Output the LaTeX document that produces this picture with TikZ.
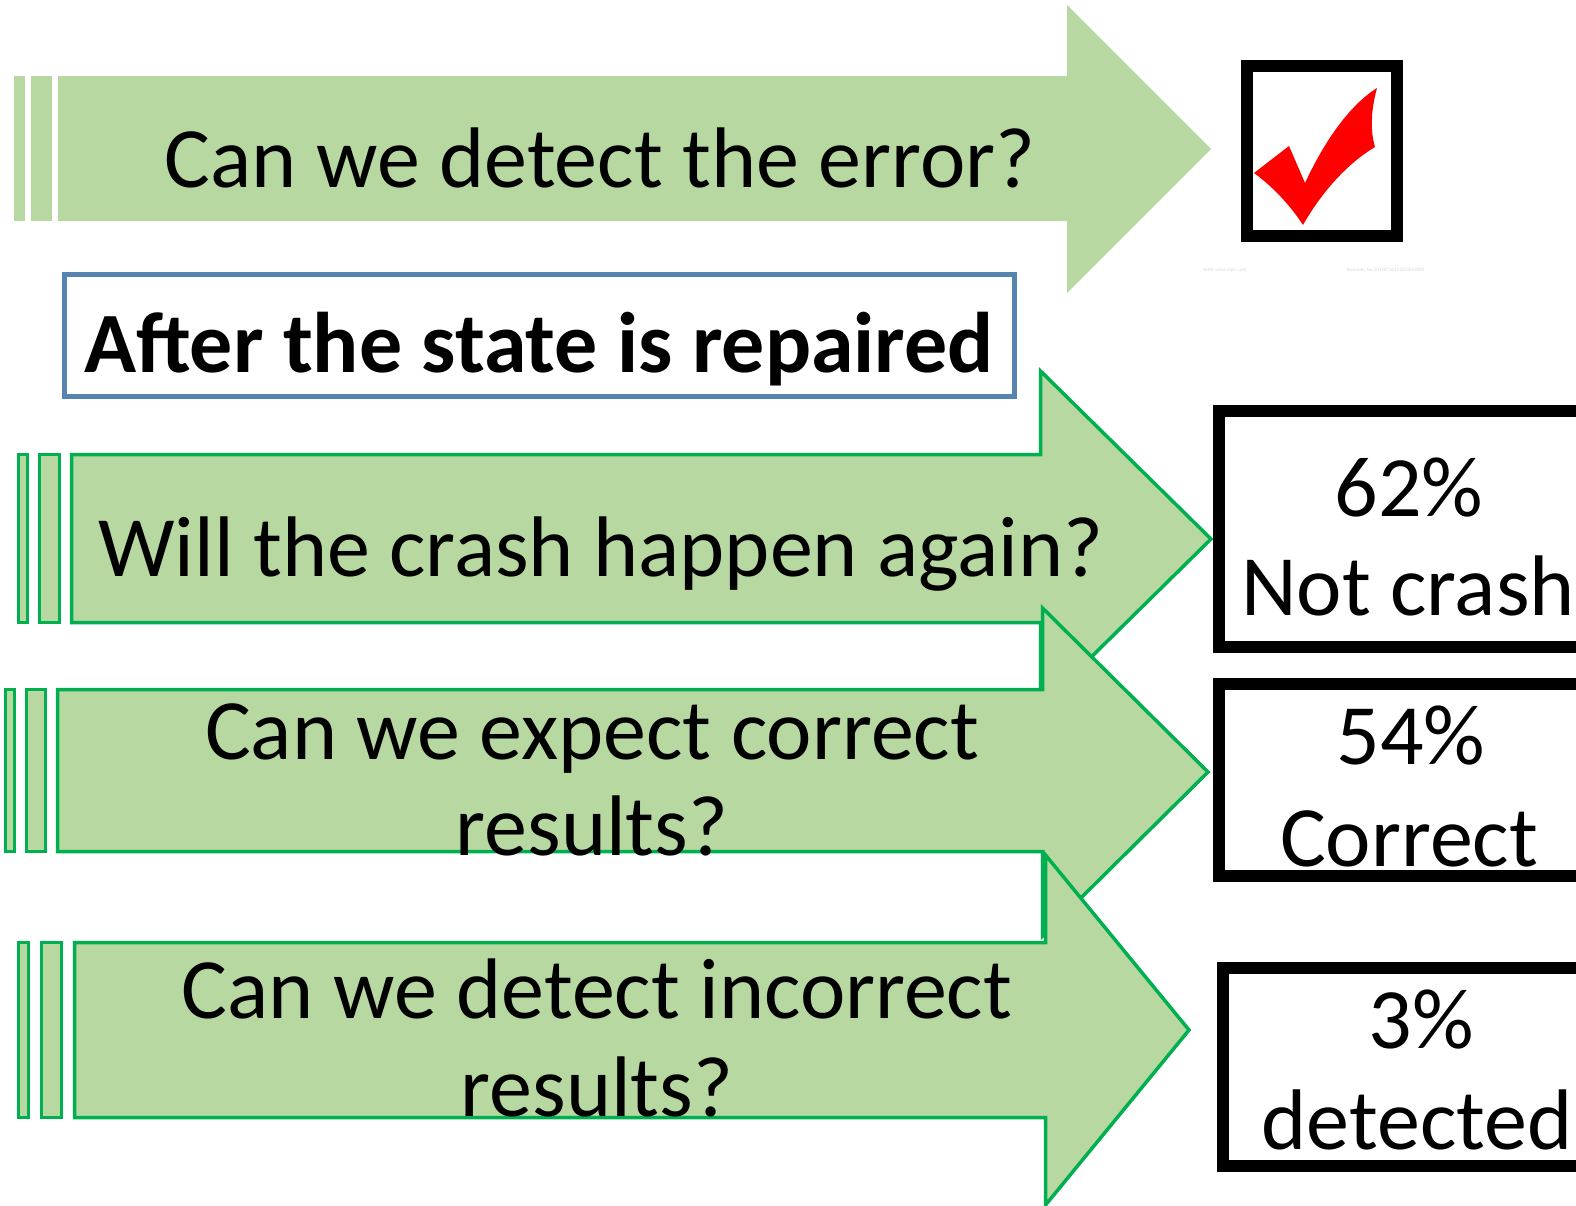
\documentclass[tikz,border=0pt]{standalone}
\usepackage{fontspec}
\setmainfont{Carlito}
\begin{document}
\begin{tikzpicture}[x=1pt,y=-1pt,
  arrowfill/.style={fill=leaf},
  arrowline/.style={fill=leaf,draw=grass,line width=3.5pt,line join=miter},
  resultbox/.style={draw=black,line width=12pt,line join=miter},
  bigtext/.style={font=\fontsize{86}{100}\selectfont,inner sep=0pt},
  titletext/.style={font=\fontsize{86}{100}\selectfont\bfseries,inner sep=0pt},
  marktext/.style={font=\fontsize{5}{6}\selectfont,text=black!15,inner sep=0pt}]
\definecolor{leaf}{RGB}{184,216,162}
\definecolor{grass}{RGB}{0,176,80}
\definecolor{steel}{RGB}{84,132,175}
\definecolor{tick}{RGB}{255,0,0}
\clip (0,0) rectangle (1576,1205);
\fill[white] (0,0) rectangle (1576,1205);

% first question: plain block arrow with two stripes
\fill[arrowfill] (14,76) rectangle (25,221);
\fill[arrowfill] (31,76) rectangle (52,221);
\fill[arrowfill] (58,76) -- (1067,76) -- (1067,5) -- (1211,149) -- (1067,293) -- (1067,221) -- (58,221) -- cycle;
\node[bigtext,anchor=base] (q1) at (600,187) {Can we detect the error?};

% tick box
\draw[resultbox] (1247,66) rectangle (1397,236);
\fill[tick] (1254,173) -- (1289,146) -- (1305,183)
  .. controls (1325,140) and (1350,105) .. (1377,88)
  .. controls (1371,110) and (1370,130) .. (1375,147)
  .. controls (1345,165) and (1320,195) .. (1303,225)
  .. controls (1290,205) and (1272,186) .. cycle;
\node[marktext,anchor=west] (wm1) at (1203,270) {NIPIC www.nipic.com};
\node[marktext,anchor=west] (wm2) at (1347,270) {By:kooky No:20110716111855859000};

% heading
\draw[steel,line width=5.5pt] (64.5,274.5) rectangle (1014.5,396.5);
\node[titletext,anchor=base] (head) at (539,372) {After the state is repaired};

% second question
\draw[arrowline] (18.5,454.5) rectangle (27.5,622.5);
\draw[arrowline] (39.5,454.5) rectangle (59.5,622.5);
\draw[arrowline] (71.5,454.5) -- (1040.5,454.5) -- (1040.5,371) -- (1211,539) -- (1040.5,707) -- (1040.5,622.5) -- (71.5,622.5) -- cycle;
\node[bigtext,anchor=base] (q2) at (601,576) {Will the crash happen again?};

% third question
\draw[arrowline] (5.5,689.5) rectangle (14.5,851.5);
\draw[arrowline] (26.5,689.5) rectangle (45.5,851.5);
\draw[arrowline] (57.5,689.5) -- (1042.5,689.5) -- (1042.5,608) -- (1208,772) -- (1042.5,936) -- (1042.5,851.5) -- (57.5,851.5) -- cycle;
\node[bigtext,anchor=base] (q3a) at (592,759) {Can we expect correct};
\node[bigtext,anchor=base] (q3b) at (592,855) {results?};

% fourth question
\draw[arrowline] (18.5,942.5) rectangle (28.5,1117.5);
\draw[arrowline] (41.5,942.5) rectangle (61.5,1117.5);
\draw[arrowline] (74.5,942.5) -- (1045.5,942.5) -- (1045.5,855) -- (1189,1030) -- (1045.5,1205) -- (1045.5,1117.5) -- (74.5,1117.5) -- cycle;
\node[bigtext,anchor=base] (q4a) at (597,1018) {Can we detect incorrect};
\node[bigtext,anchor=base] (q4b) at (597,1116) {results?};

% results
\draw[resultbox] (1219,411) rectangle (1600,647);
\node[bigtext,anchor=base] (r1a) at (1409,516) {62\%};
\node[bigtext,anchor=base] (r1b) at (1408,615) {Not crash};

\draw[resultbox] (1219,684) rectangle (1600,876);
\node[bigtext,anchor=base] (r2a) at (1411,764) {54\%};
\node[bigtext,anchor=base] (r2b) at (1409,866) {Correct};

\draw[resultbox] (1223,968) rectangle (1600,1166);
\node[bigtext,anchor=base] (r3a) at (1421,1048) {3\%};
\node[bigtext,anchor=base] (r3b) at (1417,1149) {detected};
\end{tikzpicture}
\end{document}
